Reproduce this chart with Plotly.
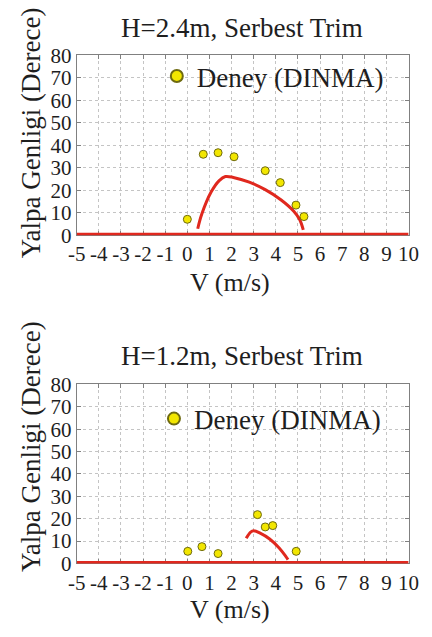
import plotly.graph_objects as go

# ---- data ----
exp1_v = [0.0, 0.72, 1.39, 2.11, 3.52, 4.2, 4.91, 5.27]
exp1_a = [7.1, 36.0, 36.7, 34.9, 28.7, 23.4, 13.4, 8.3]
sim1_v = [0.47, 0.65, 1.08, 1.44, 1.72, 2.08, 2.8, 3.52, 4.24, 4.81, 5.07, 5.24]
sim1_a = [2.9, 9.3, 19.3, 24.3, 26.1, 25.7, 23.6, 20.3, 15.7, 10.7, 7.1, 2.4]

exp2_v = [0.02, 0.66, 1.39, 3.17, 3.52, 3.86, 4.92]
exp2_a = [5.4, 7.5, 4.4, 21.8, 16.3, 16.9, 5.4]
sim2_v = [2.66, 2.86, 3.0, 3.29, 3.72, 4.15, 4.44, 4.55]
sim2_a = [11.2, 14.0, 14.6, 13.5, 10.9, 6.9, 3.3, 1.7]

zero_v = [-5, 10]
zero_a = [0, 0]

x_ticks = list(range(-5, 11))
y_ticks = list(range(0, 81, 10))

titles = ["H=2.4m, Serbest Trim", "H=1.2m, Serbest Trim"]
legend_name = "Deney (DINMA)"
x_title = "V (m/s)"
y_title = "Yalpa Genligi (Derece)"

W, H = 432, 637
FONT = "Liberation Serif"
RED = "#e0281e"
YEL = "#f2e600"
OUT = "#6e6a10"

fig = go.Figure()

panels = [
    (exp1_v, exp1_a, sim1_v, sim1_a, "x", "y", "legend"),
    (exp2_v, exp2_a, sim2_v, sim2_a, "x2", "y2", "legend2"),
]
for ev, ea, sv, sa, xa, ya, lg in panels:
    fig.add_trace(go.Scatter(x=zero_v, y=zero_a, mode="lines",
                             line=dict(color=RED, width=5), xaxis=xa, yaxis=ya,
                             showlegend=False, hoverinfo="skip"))
    fig.add_trace(go.Scatter(x=sv, y=sa, mode="lines", line=dict(color=RED, width=3, shape="spline"),
                             xaxis=xa, yaxis=ya, showlegend=False))
    fig.add_trace(go.Scatter(x=ev, y=ea, mode="markers", name=legend_name,
                             marker=dict(color=YEL, size=8, line=dict(color=OUT, width=1)),
                             xaxis=xa, yaxis=ya, legend=lg, cliponaxis=False))

def px_x(p):
    return p / W

def px_y(p):
    return 1 - p / H

x_dom = [px_x(71), px_x(419)]
dom1 = [px_y(232), px_y(45)]
dom2 = [px_y(573), px_y(387)]

ax_common = dict(showline=True, linecolor="#808080", linewidth=1, mirror="ticks",
                 ticks="inside", ticklen=4, tickcolor="#808080",
                 showgrid=True, gridcolor="#c4c4c4", griddash="dot", gridwidth=1,
                 zeroline=False, tickfont=dict(family=FONT, size=21, color="#1e1e1e"),
                 layer="below traces")

xax = dict(ax_common, range=[-5, 10], tickmode="array", tickvals=x_ticks,
           ticktext=[str(v) for v in x_ticks], domain=x_dom)
yax = dict(ax_common, range=[0, 80], tickmode="array", tickvals=y_ticks,
           ticktext=[str(v) for v in y_ticks])

leg_common = dict(xanchor="left", yanchor="middle", itemsizing="constant",
                  bgcolor="rgba(0,0,0,0)", borderwidth=0, font=dict(size=27, family=FONT))

fig.update_layout(
    width=W, height=H, margin=dict(l=0, r=0, t=0, b=0),
    paper_bgcolor="white", plot_bgcolor="white",
    font=dict(family=FONT, color="#1e1e1e"),
    xaxis=dict(xax, anchor="y"),
    yaxis=dict(yax, domain=dom1, anchor="x"),
    xaxis2=dict(xax, anchor="y2"),
    yaxis2=dict(yax, domain=dom2, anchor="x2"),
    legend=dict(leg_common, x=px_x(155), y=px_y(67)),
    legend2=dict(leg_common, x=px_x(152), y=px_y(423)),
    showlegend=True,
)

ann = []
for t, yc in zip(titles, [17, 357]):
    ann.append(dict(text=t, x=px_x(244), y=px_y(yc), xref="paper", yref="paper",
                    showarrow=False, font=dict(size=27, family=FONT), xanchor="center", yanchor="middle"))
for yc in [125, 451]:
    ann.append(dict(text=y_title, x=px_x(23), y=px_y(yc), xref="paper", yref="paper",
                    textangle=-90, showarrow=False, font=dict(size=27, family=FONT),
                    xanchor="center", yanchor="middle"))
for yc in [281, 621]:
    ann.append(dict(text=x_title, x=px_x(232), y=px_y(yc), xref="paper", yref="paper",
                    showarrow=False, font=dict(size=26, family=FONT), xanchor="center", yanchor="middle"))
fig.update_layout(annotations=ann)

fig.write_html("out.html")
